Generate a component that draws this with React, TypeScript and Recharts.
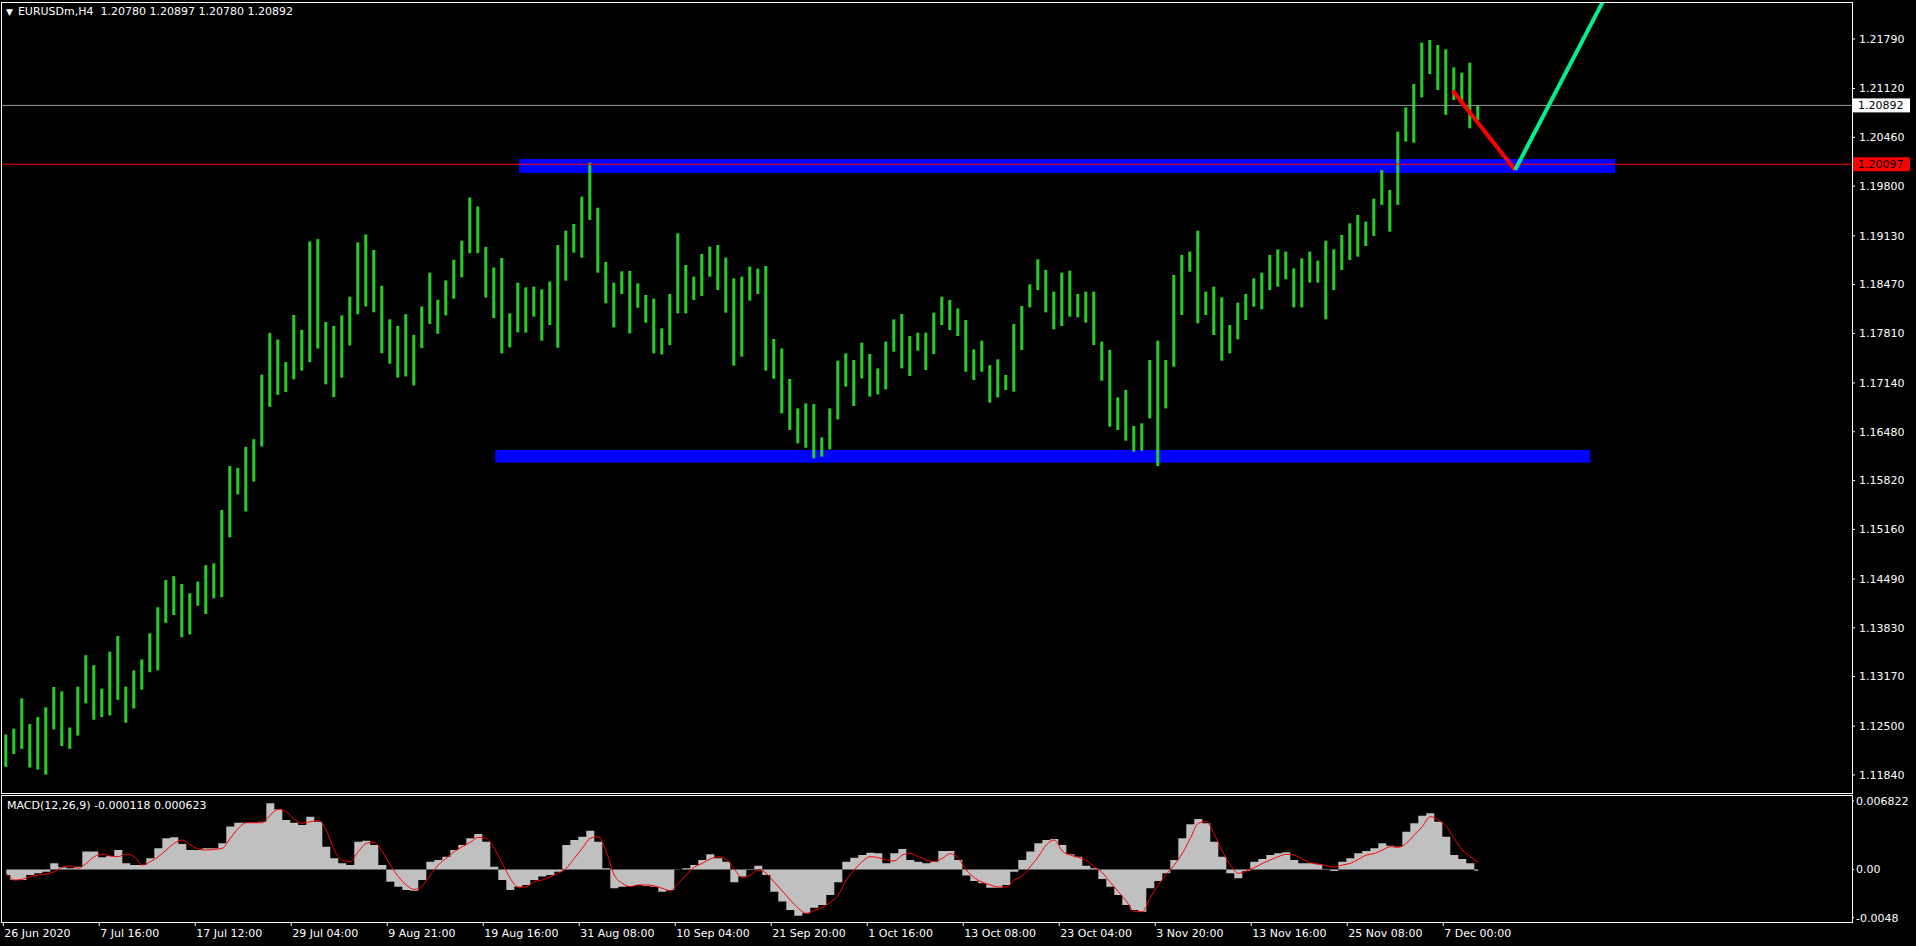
import React from "react"
import {
    ComposedChart,
    Bar,
    Area,
    Line,
    XAxis,
    YAxis,
    ReferenceLine,
    ReferenceArea,
} from "recharts"

const FONT = "DejaVu Sans"

const symbolTitle = "EURUSDm,H4  1.20780 1.20897 1.20780 1.20892"
const macdTitle = "MACD(12,26,9) -0.000118 0.000623"

// one label every 48 H4 bars (= every 12 points below, each point = 4 bars)
const timeLabels = [
    "26 Jun 2020", "7 Jul 16:00", "17 Jul 12:00", "29 Jul 04:00", "9 Aug 21:00",
    "19 Aug 16:00", "31 Aug 08:00", "10 Sep 04:00", "21 Sep 20:00", "1 Oct 16:00",
    "13 Oct 08:00", "23 Oct 04:00", "3 Nov 20:00", "13 Nov 16:00", "25 Nov 08:00",
    "7 Dec 00:00",
]

const priceTicks = [
    1.2179, 1.2112, 1.2046, 1.198, 1.1913, 1.1847, 1.1781, 1.1714,
    1.1648, 1.1582, 1.1516, 1.1449, 1.1383, 1.1317, 1.125, 1.1184,
]
const macdTicks = [0.006822, 0, -0.0048]
const macdTickLabels = ["0.006822", "0.00", "-0.0048"]

const highs = [
    1.12387, 1.12466, 1.12876, 1.12529, 1.12623, 1.12756, 1.13029, 1.12971, 1.12481, 1.13034,
    1.13460, 1.13324, 1.13007, 1.13507, 1.13718, 1.13034, 1.13255, 1.13402, 1.13755, 1.14108,
    1.14475, 1.14528, 1.14423, 1.14297, 1.14454, 1.14676, 1.14701, 1.15422, 1.16017, 1.15991,
    1.16275, 1.16380, 1.17252, 1.17816, 1.17727, 1.17421, 1.18058, 1.17858, 1.19052, 1.19084,
    1.17964, 1.17911, 1.18053, 1.18306, 1.19041, 1.19147, 1.18937, 1.18453, 1.18000, 1.17911,
    1.18069, 1.17789, 1.18173, 1.18631, 1.18264, 1.18526, 1.18805, 1.19063, 1.19647, 1.19525,
    1.18979, 1.18700, 1.18829, 1.18081, 1.18495, 1.18432, 1.18441, 1.18405, 1.18509, 1.19005,
    1.19198, 1.19288, 1.19658, 1.20118, 1.19509, 1.18775, 1.18495, 1.18649, 1.18653, 1.18486,
    1.18329, 1.18279, 1.17878, 1.18342, 1.19162, 1.18734, 1.18576, 1.18883, 1.18982, 1.19005,
    1.18833, 1.18554, 1.18576, 1.18712, 1.18685, 1.18721, 1.17734, 1.17607, 1.17193, 1.16796,
    1.16864, 1.16855, 1.16404, 1.16796, 1.17441, 1.17540, 1.17450, 1.17684, 1.17531, 1.17337,
    1.17698, 1.17999, 1.18072, 1.17774, 1.17819, 1.17819, 1.18090, 1.18306, 1.18261, 1.18148,
    1.17990, 1.17594, 1.17711, 1.17382, 1.17459, 1.17247, 1.17937, 1.18180, 1.18473, 1.18811,
    1.18667, 1.18374, 1.18631, 1.18658, 1.18342, 1.18374, 1.18374, 1.17698, 1.17585, 1.16945,
    1.17044, 1.16558, 1.16594, 1.17450, 1.17711, 1.17450, 1.18599, 1.18870, 1.18915, 1.19199,
    1.18374, 1.18441, 1.18297, 1.17923, 1.18225, 1.18342, 1.18554, 1.18631, 1.18870, 1.18946,
    1.18915, 1.18689, 1.18825, 1.18915, 1.18793, 1.19063, 1.18946, 1.19140, 1.19298, 1.19410,
    1.19320, 1.19631, 1.20019, 1.19748, 1.20537, 1.20866, 1.21182, 1.21741, 1.21777, 1.21709,
    1.21650, 1.21407, 1.21335, 1.21470, 1.20897,
]

const lows = [
    1.11950, 1.12124, 1.12192, 1.11940, 1.11913, 1.11844, 1.12456, 1.12230, 1.12192, 1.12372,
    1.12808, 1.12587, 1.12623, 1.12645, 1.12856, 1.12545, 1.12739, 1.12992, 1.13229, 1.13255,
    1.13897, 1.14002, 1.13702, 1.13739, 1.14128, 1.14017, 1.14228, 1.14244, 1.15054, 1.15633,
    1.15402, 1.15806, 1.16280, 1.16817, 1.16979, 1.17016, 1.17190, 1.17305, 1.17421, 1.17605,
    1.17121, 1.16948, 1.17211, 1.17647, 1.18069, 1.18173, 1.18095, 1.17542, 1.17400, 1.17211,
    1.17227, 1.17106, 1.17611, 1.17937, 1.17805, 1.18053, 1.18279, 1.18568, 1.18894, 1.18894,
    1.18295, 1.18016, 1.17540, 1.17621, 1.17824, 1.17819, 1.18036, 1.17711, 1.17923, 1.17616,
    1.18522, 1.18901, 1.18833, 1.19343, 1.18630, 1.18216, 1.17891, 1.18342, 1.17810, 1.18157,
    1.17954, 1.17540, 1.17526, 1.17652, 1.18081, 1.18081, 1.18261, 1.18315, 1.18576, 1.18396,
    1.18090, 1.17373, 1.17495, 1.18252, 1.18342, 1.17305, 1.17197, 1.16729, 1.16503, 1.16323,
    1.16264, 1.16120, 1.16143, 1.16242, 1.16647, 1.17089, 1.16828, 1.17202, 1.16954, 1.16985,
    1.17053, 1.17562, 1.17337, 1.17233, 1.17576, 1.17314, 1.17531, 1.17923, 1.17855, 1.17774,
    1.17292, 1.17179, 1.17292, 1.16873, 1.16945, 1.17044, 1.17022, 1.17585, 1.18162, 1.18396,
    1.18094, 1.17865, 1.17910, 1.18036, 1.18027, 1.17955, 1.17653, 1.17170, 1.16549, 1.16503,
    1.16359, 1.16210, 1.16224, 1.16661, 1.16017, 1.16796, 1.17360, 1.18058, 1.18644, 1.17946,
    1.18058, 1.17788, 1.17441, 1.17540, 1.17729, 1.17991, 1.18171, 1.18135, 1.18396, 1.18441,
    1.18541, 1.18162, 1.18162, 1.18496, 1.18496, 1.18000, 1.18396, 1.18667, 1.18802, 1.18847,
    1.18991, 1.19127, 1.19546, 1.19185, 1.19546, 1.20402, 1.20388, 1.21001, 1.21317, 1.21101,
    1.20763, 1.20965, 1.20943, 1.20582, 1.20695,
]

const macdHist = [
    -0.00055, -0.00105, -0.00105, -0.00055, -0.00038, -0.00022, 0.00061, 0.00022, 0.00012, 0.00028,
    0.00178, 0.00178, 0.00121, 0.00134, 0.00194, 0.00061, 0.00045, 0.00045, 0.00111, 0.00211,
    0.00310, 0.00320, 0.00254, 0.00194, 0.00194, 0.00211, 0.00211, 0.00261, 0.00427, 0.00466,
    0.00466, 0.00466, 0.00476, 0.00659, 0.00599, 0.00493, 0.00466, 0.00443, 0.00526, 0.00476,
    0.00227, 0.00111, 0.00061, 0.00045, 0.00277, 0.00287, 0.00244, 0.00045, -0.00121, -0.00171,
    -0.00204, -0.00211, -0.00105, 0.00078, 0.00095, 0.00128, 0.00194, 0.00244, 0.00310, 0.00354,
    0.00277, 0.00028, -0.00105, -0.00204, -0.00171, -0.00154, -0.00105, -0.00071, -0.00055, -0.00022,
    0.00244, 0.00294, 0.00327, 0.00387, 0.00277, 0.00012, -0.00188, -0.00171, -0.00164, -0.00154,
    -0.00164, -0.00171, -0.00221, -0.00204, 0.00002, 0.00012, 0.00045, 0.00095, 0.00151, 0.00111,
    0.00078, -0.00128, -0.00071, -0.00005, 0.00038, -0.00055, -0.00221, -0.00320, -0.00403, -0.00460,
    -0.00437, -0.00380, -0.00354, -0.00254, -0.00128, 0.00078, 0.00118, 0.00144, 0.00168, 0.00161,
    0.00061, 0.00161, 0.00204, 0.00095, 0.00078, 0.00061, 0.00078, 0.00184, 0.00184, 0.00095,
    -0.00061, -0.00115, -0.00138, -0.00181, -0.00181, -0.00154, -0.00022, 0.00095, 0.00178, 0.00261,
    0.00294, 0.00304, 0.00244, 0.00151, 0.00128, 0.00038, 0.00012, -0.00095, -0.00171, -0.00254,
    -0.00354, -0.00403, -0.00420, -0.00188, -0.00115, -0.00038, 0.00095, 0.00310, 0.00450, 0.00503,
    0.00460, 0.00277, 0.00128, -0.00038, -0.00088, -0.00015, 0.00078, 0.00105, 0.00144, 0.00161,
    0.00171, 0.00095, 0.00061, 0.00061, 0.00051, -0.00005, -0.00015, 0.00078, 0.00111, 0.00161,
    0.00184, 0.00211, 0.00261, 0.00237, 0.00227, 0.00377, 0.00460, 0.00536, 0.00559, 0.00476,
    0.00327, 0.00144, 0.00105, 0.00061, -0.00012,
]

const macdSignal = [
    -0.00038, -0.00105, -0.00098, -0.00071, -0.00055, -0.00045, -0.00022, 0.00022, 0.00035, 0.00012,
    0.00061, 0.00128, 0.00154, 0.00134, 0.00128, 0.00154, 0.00128, 0.00045, 0.00078, 0.00128,
    0.00194, 0.00261, 0.00294, 0.00244, 0.00204, 0.00194, 0.00201, 0.00211, 0.00310, 0.00410,
    0.00466, 0.00466, 0.00466, 0.00543, 0.00599, 0.00576, 0.00500, 0.00460, 0.00476, 0.00486,
    0.00393, 0.00194, 0.00095, 0.00078, 0.00178, 0.00261, 0.00271, 0.00178, 0.00045, -0.00071,
    -0.00154, -0.00198, -0.00164, -0.00055, 0.00045, 0.00111, 0.00178, 0.00227, 0.00271, 0.00320,
    0.00310, 0.00211, 0.00061, -0.00088, -0.00178, -0.00171, -0.00121, -0.00105, -0.00071, -0.00038,
    0.00012, 0.00111, 0.00211, 0.00310, 0.00327, 0.00178, -0.00055, -0.00138, -0.00171, -0.00154,
    -0.00154, -0.00164, -0.00188, -0.00211, -0.00138, -0.00055, 0.00022, 0.00061, 0.00105, 0.00125,
    0.00101, 0.00005, -0.00081, -0.00055, -0.00005, -0.00038, -0.00128, -0.00214, -0.00304, -0.00387,
    -0.00437, -0.00404, -0.00380, -0.00327, -0.00254, -0.00105, -0.00005, 0.00078, 0.00128, 0.00118,
    0.00095, 0.00085, 0.00144, 0.00161, 0.00128, 0.00095, 0.00078, 0.00111, 0.00158, 0.00111,
    -0.00005, -0.00081, -0.00128, -0.00154, -0.00174, -0.00174, -0.00105, -0.00065, 0.00028, 0.00128,
    0.00244, 0.00294, 0.00184, 0.00144, 0.00121, 0.00091, 0.00028, -0.00032, -0.00128, -0.00221,
    -0.00314, -0.00420, -0.00420, -0.00281, -0.00154, -0.00048, 0.00045, 0.00161, 0.00310, 0.00460,
    0.00476, 0.00350, 0.00184, 0.00045, -0.00038, -0.00015, 0.00018, 0.00061, 0.00095, 0.00128,
    0.00151, 0.00144, 0.00105, 0.00068, 0.00055, 0.00038, 0.00025, 0.00045, 0.00061, 0.00101,
    0.00144, 0.00158, 0.00194, 0.00227, 0.00221, 0.00261, 0.00344, 0.00427, 0.00526, 0.00493,
    0.00427, 0.00310, 0.00194, 0.00128, 0.00071,
]

// horizontal levels and drawn objects (x in point index, y in price)
const bidPrice = 1.20892
const levelPrice = 1.20097
const upperZone = [64.1, 201.1, 1.19978, 1.20167]
const lowerZone = [61.1, 198.0, 1.16061, 1.16233]
const dropLine = [{ x: 180.8, y: 1.21091 }, { x: 188.6, y: 1.2002 }]
const riseLine = [{ x: 188.6, y: 1.2002 }, { x: 204, y: 1.23214 }]

const xDomain = [-0.6625, 230.7125]
const priceDomain = [1.11596, 1.2229]
const macdDomain = [-0.00523, 0.00732]

const priceData = highs.map((h, i) => ({ u: i, range: [lows[i], h] }))
const macdData = macdHist.map((v, i) => ({ u: i, hist: v, signal: macdSignal[i] }))
const timeTickPos = timeLabels.map((_, k) => k * 12 - 0.375)

function PriceTag(props: any) {
    const vb = props.viewBox || {}
    const x = (vb.x || 0) + (vb.width || 0) + 1
    const y = vb.y || 0
    return (
        <g>
            <rect x={x} y={y - 7} width={57} height={14} fill={props.bg} />
            <text x={x + 5} y={y} dy="0.36em" fontSize={11} fontFamily={FONT} fill="#000">
                {props.text}
            </text>
        </g>
    )
}

function TimeTick(props: any) {
    const { x, y, index } = props
    return (
        <text x={x + 1} y={y} dy={9} fontSize={11} fontFamily={FONT} fill="#fff">
            {timeLabels[index]}
        </text>
    )
}

const frame: React.CSSProperties = {
    position: "absolute",
    boxSizing: "border-box",
    border: "1px solid #fff",
    pointerEvents: "none",
}

export default function App() {
    return (
        <div
            style={{
                width: 1916,
                height: 946,
                background: "#000",
                position: "relative",
                overflow: "hidden",
                fontFamily: FONT,
            }}
        >
            <style>{`body{margin:0;background:#000}`}</style>

            <div style={{ position: "absolute", left: 0, top: 0 }}>
                <ComposedChart
                    width={1916}
                    height={796}
                    data={priceData}
                    margin={{ top: 2, right: 0, bottom: 3, left: 1 }}
                >
                    <XAxis type="number" dataKey="u" domain={xDomain} allowDataOverflow hide />
                    <YAxis
                        orientation="right"
                        width={64}
                        domain={priceDomain}
                        allowDataOverflow
                        ticks={priceTicks}
                        interval={0}
                        axisLine={false}
                        tickLine={{ stroke: "#fff" }}
                        tickSize={3}
                        tickMargin={4}
                        tick={{ fill: "#fff", fontSize: 11, fontFamily: FONT }}
                        tickFormatter={(v: number) => v.toFixed(5)}
                    />
                    <ReferenceArea
                        x1={upperZone[0]}
                        x2={upperZone[1]}
                        y1={upperZone[2]}
                        y2={upperZone[3]}
                        fill="#0000ff"
                        fillOpacity={1}
                        stroke="none"
                    />
                    <ReferenceArea
                        x1={lowerZone[0]}
                        x2={lowerZone[1]}
                        y1={lowerZone[2]}
                        y2={lowerZone[3]}
                        fill="#0000ff"
                        fillOpacity={1}
                        stroke="none"
                    />
                    <Bar dataKey="range" barSize={3} fill="#26d026" isAnimationActive={false} />
                    <ReferenceLine
                        y={bidPrice}
                        stroke="#9a9a9a"
                        label={<PriceTag text="1.20892" bg="#ffffff" />}
                    />
                    <ReferenceLine
                        y={levelPrice}
                        stroke="#ff0000"
                        label={<PriceTag text="1.20097" bg="#ff0000" />}
                    />
                    <ReferenceLine segment={dropLine} stroke="#ff0000" strokeWidth={4} ifOverflow="hidden" />
                    <ReferenceLine segment={riseLine} stroke="#00f08c" strokeWidth={4} ifOverflow="hidden" />
                </ComposedChart>
            </div>

            <div style={{ position: "absolute", left: 0, top: 795 }}>
                <ComposedChart
                    width={1916}
                    height={151}
                    data={macdData}
                    margin={{ top: 1, right: 0, bottom: 0, left: 1 }}
                >
                    <XAxis
                        type="number"
                        dataKey="u"
                        domain={xDomain}
                        allowDataOverflow
                        ticks={timeTickPos}
                        interval={0}
                        height={24}
                        axisLine={false}
                        tickLine={{ stroke: "#fff" }}
                        tickSize={4}
                        tick={<TimeTick />}
                    />
                    <YAxis
                        orientation="right"
                        width={64}
                        domain={macdDomain}
                        allowDataOverflow
                        ticks={macdTicks}
                        interval={0}
                        axisLine={false}
                        tickLine={{ stroke: "#fff" }}
                        tickSize={2}
                        tickMargin={2}
                        tick={{ fill: "#fff", fontSize: 11, fontFamily: FONT }}
                        tickFormatter={(v: number) => macdTickLabels[macdTicks.indexOf(v)] ?? String(v)}
                    />
                    <Area
                        dataKey="hist"
                        type="step"
                        baseValue={0}
                        stroke="none"
                        fill="#c0c0c0"
                        fillOpacity={1}
                        isAnimationActive={false}
                    />
                    <Line
                        dataKey="signal"
                        type="monotone"
                        stroke="#ff0000"
                        strokeWidth={1}
                        dot={false}
                        isAnimationActive={false}
                    />
                </ComposedChart>
            </div>

            <div style={{ ...frame, left: 1, top: 2, width: 1852, height: 792 }} />
            <div style={{ ...frame, left: 1, top: 795, width: 1852, height: 128 }} />

            <div
                style={{
                    position: "absolute",
                    left: 6,
                    top: 5,
                    color: "#fff",
                    fontSize: 11,
                    lineHeight: "14px",
                    whiteSpace: "pre",
                }}
            >
                <span style={{ fontSize: 9, marginRight: 5 }}>▼</span>
                {symbolTitle}
            </div>
            <div
                style={{
                    position: "absolute",
                    left: 7,
                    top: 799,
                    color: "#fff",
                    fontSize: 11,
                    lineHeight: "14px",
                    whiteSpace: "pre",
                }}
            >
                {macdTitle}
            </div>
        </div>
    )
}
